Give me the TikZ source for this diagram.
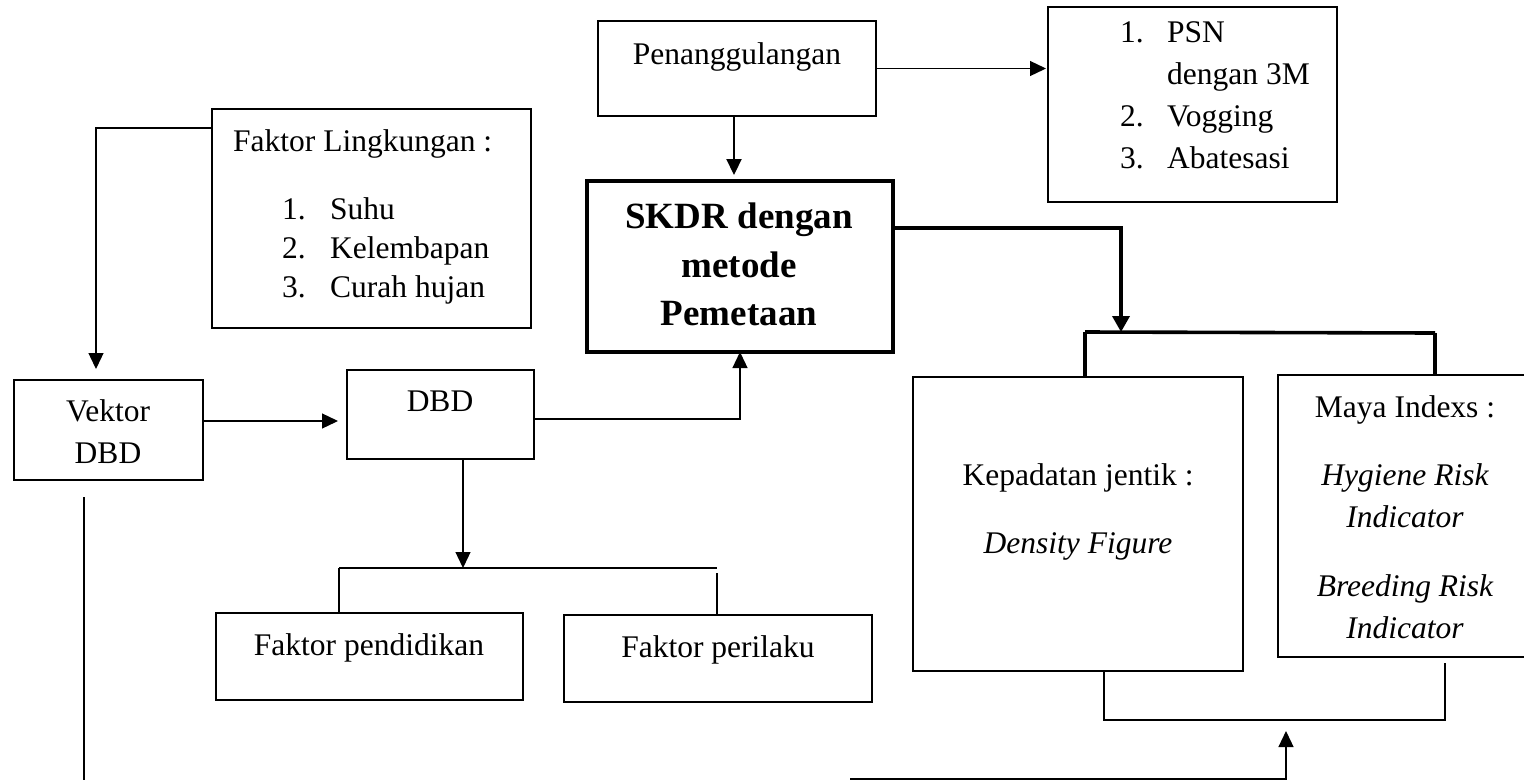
\documentclass[tikz,border=0pt]{standalone}
\usepackage{fontspec}
\setmainfont{Liberation Serif}
\usetikzlibrary{arrows.meta,calc}
\begin{document}
\begin{tikzpicture}[x=1pt,y=-1pt,
  bx/.style={draw, line width=2.6pt, anchor=north west, inner sep=0pt, outer sep=0pt},
  tx/.style={font=\fontsize{31.5}{41}\selectfont, inner sep=0pt, anchor=base},
  it/.style={tx, font=\fontsize{31.5}{41}\selectfont\itshape},
  bf/.style={tx, font=\fontsize{37}{48}\selectfont\bfseries},
  ln/.style={line width=1.3pt},
  arr/.style={ln, -{Triangle[width=15pt,length=16pt]}},
  tk/.style={line width=3.6pt},
  tarr/.style={tk, -{Triangle[width=17pt,length=16pt]}}]

\useasboundingbox (0,0) rectangle (1524,780);

% boxes
\node[bx, minimum width=278pt, minimum height=95pt] (pen) at (598,21) {};
\node[bx, minimum width=289pt, minimum height=195pt] (psn) at (1048,7) {};
\node[bx, minimum width=319pt, minimum height=219pt] (fl) at (212,109) {};
\node[bx, line width=4pt, minimum width=306pt, minimum height=171pt] (skdr) at (587,181) {};
\node[bx, minimum width=189pt, minimum height=100pt] (vek) at (14,380) {};
\node[bx, minimum width=187pt, minimum height=89pt] (dbd) at (347,370) {};
\node[bx, minimum width=307pt, minimum height=87pt] (fp) at (216,613) {};
\node[bx, minimum width=308pt, minimum height=87pt] (fpr) at (564,615) {};
\node[bx, minimum width=330pt, minimum height=294pt] (kep) at (913,377) {};
\node[bx, minimum width=252pt, minimum height=282pt] (maya) at (1278,375) {};

% texts
\node[tx] (penT) at (737,64) {Penanggulangan};

\node[tx, anchor=base west] (p1n) at (1120,42) {1.};
\node[tx, anchor=base west] (p1) at (1167,42) {PSN};
\node[tx, anchor=base west] (p1b) at (1167,84) {dengan 3M};
\node[tx, anchor=base west] (p2n) at (1120,126) {2.};
\node[tx, anchor=base west] (p2) at (1167,126) {Vogging};
\node[tx, anchor=base west] (p3n) at (1120,168) {3.};
\node[tx, anchor=base west] (p3) at (1167,168) {Abatesasi};

\node[tx, anchor=base west] (flT) at (233,151) {Faktor Lingkungan :};
\node[tx, anchor=base west] (f1n) at (282,219) {1.};
\node[tx, anchor=base west] (f1) at (330,219) {Suhu};
\node[tx, anchor=base west] (f2n) at (282,258) {2.};
\node[tx, anchor=base west] (f2) at (330,258) {Kelembapan};
\node[tx, anchor=base west] (f3n) at (282,297) {3.};
\node[tx, anchor=base west] (f3) at (330,297) {Curah hujan};

\node[bf] (s1) at (739,228) {SKDR dengan};
\node[bf] (s2) at (739,277) {metode};
\node[bf] (s3) at (739,325) {Pemetaan};

\node[tx] (vT1) at (108,421) {Vektor};
\node[tx] (vT2) at (108,463) {DBD};
\node[tx] (dT) at (440,411) {DBD};

\node[tx] (kT1) at (1078,485) {Kepadatan jentik :};
\node[it] (kT2) at (1078,553) {Density Figure};

\node[tx] (mT1) at (1405,417) {Maya Indexs :};
\node[it] (mT2) at (1405,485) {Hygiene Risk};
\node[it] (mT3) at (1405,527) {Indicator};
\node[it] (mT4) at (1405,596) {Breeding Risk};
\node[it] (mT5) at (1405,638) {Indicator};

\node[tx] (fpT) at (369,655) {Faktor pendidikan};
\node[tx] (fprT) at (718,657) {Faktor perilaku};

% helper coordinates
\coordinate (xv) at (96,0);
\coordinate (yfl) at (0,128);
\coordinate (yv) at (0,421);
\coordinate (yd) at (0,419);
\coordinate (xd) at (463,0);
\coordinate (bl) at (339,568);
\coordinate (br) at (717,568);
\coordinate (ys) at (0,228);
\coordinate (xa) at (1121,0);
\coordinate (tl) at (1085,332);
\coordinate (tr) at (1435,333);
\coordinate (xk) at (1104,0);
\coordinate (xm) at (1445,0);
\coordinate (yb) at (0,720);
\coordinate (xl) at (84,0);
\coordinate (ybot) at (0,780);
\coordinate (b1) at (850,779);
\coordinate (xj) at (1286,0);
\coordinate (yj) at (0,731);

% connectors
\draw[arr, shorten >=2pt] (pen.east) -- (psn.west |- pen.east);
\draw[arr, line width=2.2pt, shorten >=6pt] ($(pen.south)+(-3,0)$) -- ($(pen.south |- skdr.north)+(-3,0)$);
\draw[arr, shorten >=11pt] (fl.west |- yfl) -| (vek.north -| xv);
\draw[arr, shorten >=9pt] (vek.east |- yv) -- (dbd.west |- yv);
\draw[arr] (dbd.east |- yd) -| (skdr.south);
\draw[arr] (dbd.south -| xd) -- (xd |- bl);
\draw[ln] (bl) -- (br);
\draw[ln] (bl) -- (fp.north -| bl);
\draw[ln] ($(br)+(0,5)$) -- (fpr.north -| br);

\draw[tarr] (skdr.east |- ys) -| (xa |- tl);
\draw[tk] (tl) -- (tr);
\draw[tk] (tl) -- (kep.north -| tl);
\draw[tk] (tr) -- (maya.north -| tr);

\draw[ln, shorten >=6pt] (kep.south -| xk) -- (xk |- yb) -- (xm |- yb) -- (maya.south -| xm);
\draw[ln, shorten <=17pt] (vek.south -| xl) -- (xl |- ybot);
\draw[arr] (b1) -- (xj |- b1) -- (xj |- yj);

\end{tikzpicture}
\end{document}
